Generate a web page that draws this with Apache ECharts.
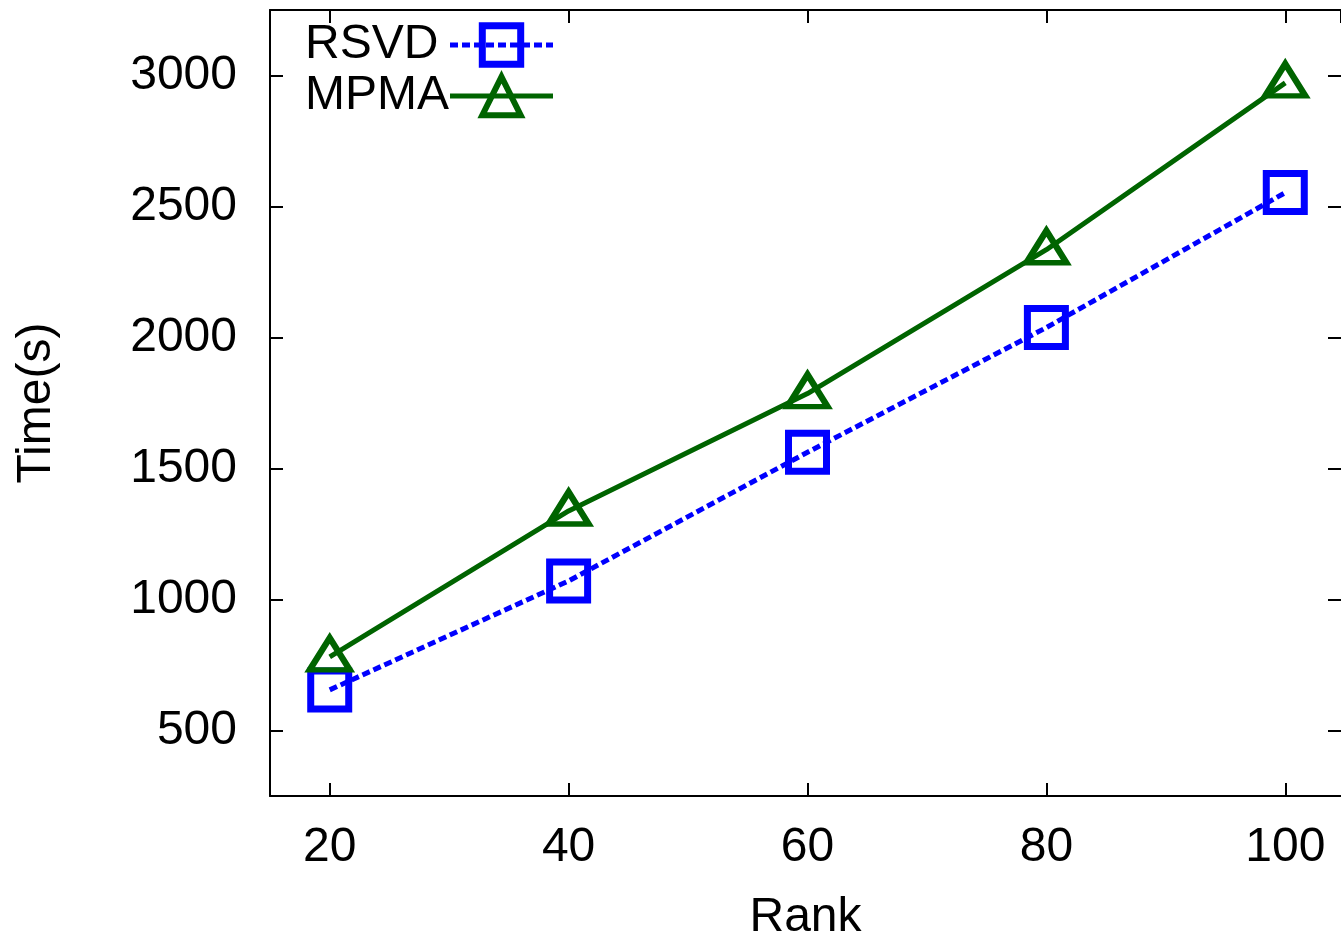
<!DOCTYPE html>
<html>
<head>
<meta charset="utf-8">
<title>Time vs Rank</title>
<script src="https://cdn.jsdelivr.net/npm/echarts@6/dist/echarts.min.js"></script>
<style>
    html, body { margin: 0; padding: 0; background: #fff; }
    #main { width: 1341px; height: 947px; }
</style>
</head>
<body>
<div id="main"></div>
<script>
    // values
    const ranks = [20, 40, 60, 80, 100];
    const rsvdTime = [655, 1071, 1562, 2038, 2553];
    const mpmaTime = [781, 1338, 1786, 2335, 2972];

    const blue = '#0000ff';
    const green = '#006400';
    const font = '"Liberation Sans", Arial, sans-serif';

    function pairs(xs, ys) {
        return xs.map((x, i) => [x, ys[i]]);
    }

    let myChart = echarts.init(document.getElementById('main'));

    // gnuplot style frame: ticks point inward on all four sides.
    // the frame runs 15..105 but its right border is cut off by the picture edge,
    // so the visible x range stops a little short of 105
    let xBase = {
        type: 'value',
        min: 15,
        max: 104.665,
        splitLine: { show: false },
        axisLine: { show: true, onZero: false, lineStyle: { color: '#000', width: 2 } },
        axisTick: { show: true, inside: true, length: 13, lineStyle: { color: '#000', width: 2 } }
    };
    let yBase = {
        type: 'value',
        min: 250,
        max: 3250,
        splitLine: { show: false },
        axisLine: { show: true, onZero: false, lineStyle: { color: '#000', width: 2 } },
        axisTick: { show: true, inside: true, length: 13, lineStyle: { color: '#000', width: 2 } }
    };

    let option = {
        animation: false,
        textStyle: { fontFamily: font },
        grid: { left: 270, right: 0, top: 10, bottom: 150 },
        legend: {
            left: 305,
            top: 21,
            orient: 'vertical',
            align: 'right',
            padding: 0,
            itemGap: 3,
            itemWidth: 103,
            itemHeight: 48,
            selectedMode: false,
            formatter: name => '{a|' + name + '}',
            textStyle: {
                fontFamily: font,
                fontSize: 48,
                color: '#000',
                lineHeight: 48,
                rich: { a: { width: 140, align: 'left', fontSize: 48, fontFamily: font, lineHeight: 48 } }
            },
            data: [
                {
                    name: 'RSVD',
                    itemStyle: { color: 'rgba(0,0,0,0)', borderColor: blue, borderWidth: 7 },
                    lineStyle: { color: blue, width: 5, type: [8, 4] }
                },
                {
                    name: 'MPMA',
                    itemStyle: { color: 'rgba(0,0,0,0)', borderColor: green, borderWidth: 6 },
                    lineStyle: { color: green, width: 5, type: 'solid' }
                }
            ]
        },
        xAxis: [
            Object.assign({}, xBase, {
                position: 'bottom',
                name: 'Rank',
                nameLocation: 'middle',
                nameGap: 98,
                nameTextStyle: { fontFamily: font, fontSize: 48, color: '#000' },
                axisLabel: {
                    margin: 28, fontSize: 48, color: '#000', fontFamily: font,
                    showMinLabel: false, showMaxLabel: false
                }
            }),
            Object.assign({}, xBase, { position: 'top', axisLabel: { show: false } })
        ],
        yAxis: [
            Object.assign({}, yBase, {
                position: 'left',
                name: 'Time(s)',
                nameLocation: 'middle',
                nameGap: 209,
                nameTextStyle: { fontFamily: font, fontSize: 48, color: '#000' },
                axisLabel: {
                    margin: 33, fontSize: 48, color: '#000', fontFamily: font,
                    showMinLabel: false, showMaxLabel: false,
                    formatter: v => String(v)
                }
            }),
            // right side: only the inward ticks show
            Object.assign({}, yBase, {
                position: 'right',
                axisLine: { show: false },
                axisLabel: { show: false }
            })
        ],
        series: [
            {
                name: 'RSVD',
                type: 'line',
                xAxisIndex: 0,
                yAxisIndex: 0,
                data: pairs(ranks, rsvdTime),
                symbol: 'rect',
                symbolSize: 38,
                itemStyle: { color: 'rgba(0,0,0,0)', borderColor: blue, borderWidth: 7 },
                lineStyle: { color: blue, width: 5, type: [8, 4] },
                emphasis: { disabled: true }
            },
            {
                name: 'MPMA',
                type: 'line',
                xAxisIndex: 0,
                yAxisIndex: 0,
                data: pairs(ranks, mpmaTime),
                symbol: 'triangle',
                symbolSize: [40, 32],
                symbolOffset: [0, -3],
                itemStyle: { color: 'rgba(0,0,0,0)', borderColor: green, borderWidth: 6 },
                lineStyle: { color: green, width: 5 },
                emphasis: { disabled: true }
            }
        ]
    };

    myChart.setOption(option, true);
</script>
</body>
</html>
